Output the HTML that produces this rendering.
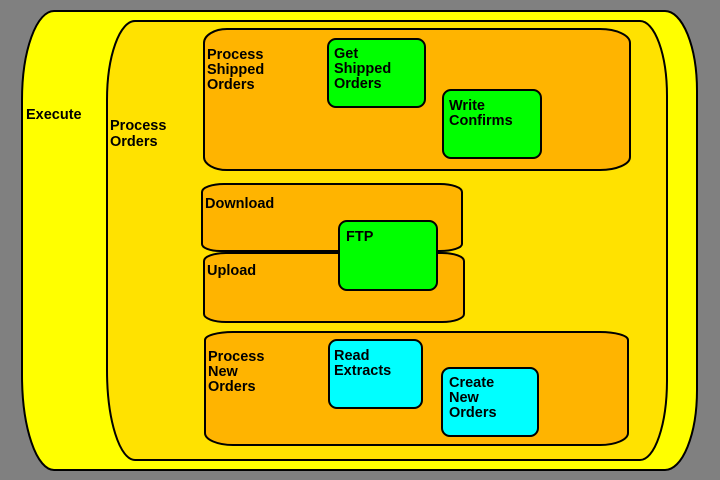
<!DOCTYPE html>
<html>
<head>
<meta charset="utf-8">
<style>
html,body{margin:0;padding:0;background:#808080;}
svg{display:block;}
text{font-family:"Liberation Sans",sans-serif;font-weight:bold;font-size:14.5px;fill:#000;}
</style>
</head>
<body>
<svg width="720" height="480" viewBox="0 0 720 480" xmlns="http://www.w3.org/2000/svg">
<rect x="0" y="0" width="720" height="480" fill="#808080"/>
<!-- Execute -->
<path d="M54,11 H665 A32,80 0 0 1 697,91 V390 A32,80 0 0 1 665,470 H54 A32,95 0 0 1 22,375 V100 A32,89 0 0 1 54,11 Z" fill="#FFFF00" stroke="#000" stroke-width="2"/>
<!-- Process Orders -->
<path d="M135,21 H640 A27,75 0 0 1 667,96 V380 A27,80 0 0 1 640,460 H135 A28,90 0 0 1 107,370 V100 A28,79 0 0 1 135,21 Z" fill="#FFE200" stroke="#000" stroke-width="2"/>
<!-- Process Shipped Orders -->
<path d="M227,29 H600 A30,14 0 0 1 630,43 V157 A30,13 0 0 1 600,170 H227 A23,13 0 0 1 204,157 V43 A23,14 0 0 1 227,29 Z" fill="#FFB400" stroke="#000" stroke-width="2"/>
<!-- Download -->
<path d="M224,184 H440 A22,8 0 0 1 462,192 V244 A22,7 0 0 1 440,251 H220 A18,7 0 0 1 202,244 V192 A22,8 0 0 1 224,184 Z" fill="#FFB400" stroke="#000" stroke-width="2"/>
<!-- Upload -->
<path d="M226,253 H442 A22,8 0 0 1 464,261 V314 A22,8 0 0 1 442,322 H226 A22,8 0 0 1 204,314 V261 A22,8 0 0 1 226,253 Z" fill="#FFB400" stroke="#000" stroke-width="2"/>
<!-- Process New Orders -->
<path d="M233,332 H600 A28,8 0 0 1 628,340 V433 A28,12 0 0 1 600,445 H233 A28,12 0 0 1 205,433 V340 A28,8 0 0 1 233,332 Z" fill="#FFB400" stroke="#000" stroke-width="2"/>

<!-- leaf boxes -->
<rect x="328" y="39" width="97" height="68" rx="8" ry="8" fill="#00FF00" stroke="#000" stroke-width="2"/>
<rect x="443" y="90" width="98" height="68" rx="8" ry="8" fill="#00FF00" stroke="#000" stroke-width="2"/>
<rect x="339" y="221" width="98" height="69" rx="8" ry="8" fill="#00FF00" stroke="#000" stroke-width="2"/>
<rect x="329" y="340" width="93" height="68" rx="8" ry="8" fill="#00FFFF" stroke="#000" stroke-width="2"/>
<rect x="442" y="368" width="96" height="68" rx="8" ry="8" fill="#00FFFF" stroke="#000" stroke-width="2"/>

<!-- labels -->
<text x="26" y="119">Execute</text>
<text x="110" y="130">Process</text>
<text x="110" y="146">Orders</text>

<text x="207" y="59">Process</text>
<text x="207" y="74">Shipped</text>
<text x="207" y="89">Orders</text>

<text x="334" y="58">Get</text>
<text x="334" y="73">Shipped</text>
<text x="334" y="88">Orders</text>

<text x="449" y="110">Write</text>
<text x="449" y="125">Confirms</text>

<text x="205" y="208">Download</text>
<text x="346" y="241">FTP</text>
<text x="207" y="275">Upload</text>

<text x="208" y="361">Process</text>
<text x="208" y="376">New</text>
<text x="208" y="391">Orders</text>

<text x="334" y="360">Read</text>
<text x="334" y="375">Extracts</text>

<text x="449" y="387">Create</text>
<text x="449" y="402">New</text>
<text x="449" y="417">Orders</text>
</svg>
</body>
</html>
